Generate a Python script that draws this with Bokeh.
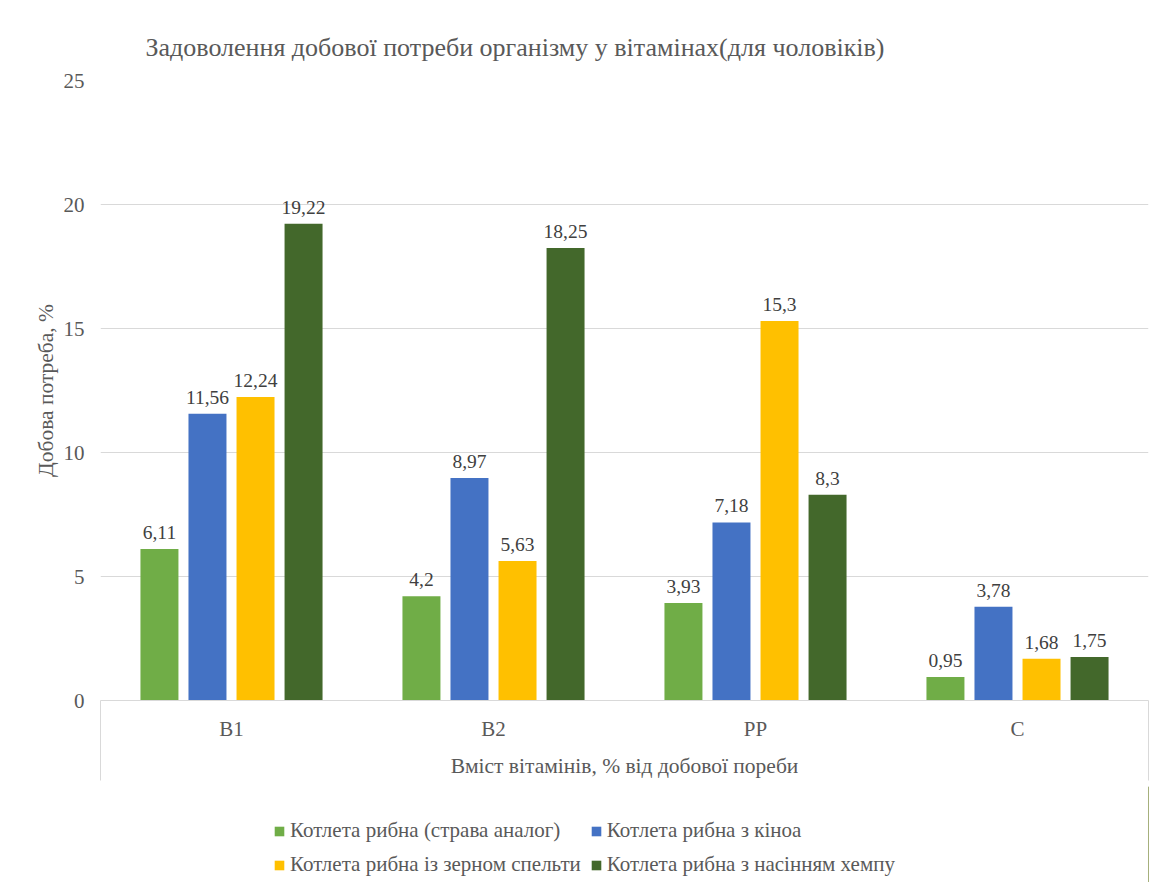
from bokeh.plotting import figure
from bokeh.layouts import column
from bokeh.models import (Range1d, FixedTicker, LinearAxis, Legend,
                          LegendItem, ColumnDataSource)
from bokeh.transform import dodge
from bokeh.core.properties import value
from bokeh.embed import file_html
from bokeh.resources import INLINE

# ---------------- data ----------------
categories = ["B1", "B2", "PP", "C"]
series_names = [
    "Котлета рибна (страва аналог)",
    "Котлета рибна з кіноа",
    "Котлета рибна із зерном спельти",
    "Котлета рибна з насінням хемпу",
]
analog = [6.11, 4.2, 3.93, 0.95]
quinoa = [11.56, 8.97, 7.18, 3.78]
spelt = [12.24, 5.63, 15.3, 1.68]
hemp = [19.22, 18.25, 8.3, 1.75]
y_ticks = [0, 5, 10, 15, 20, 25]

title_text = "Задоволення добової потреби організму у вітамінах(для чоловіків)"
x_title = "Вміст вітамінів, % від добової пореби"
y_title = "Добова потреба, %"

# ---------------- style ----------------
colors = ["#70AD47", "#4472C4", "#FFC000", "#43682B"]
FONT = "Liberation Serif"
GRID = "#d9d9d9"
TXT = "#595959"
offsets = [-0.275, -0.0917, 0.0917, 0.275]
bar_w = 0.145

idx = list(range(len(categories)))
x_lo, x_hi = -0.5, len(categories) - 0.5

W, H1, H2 = 1156, 786, 96
p = figure(width=W, height=H1,
           x_range=Range1d(x_lo, x_hi), y_range=Range1d(0, 25),
           output_backend="svg", toolbar_location=None,
           min_border_left=100, min_border_right=8,
           min_border_top=80, min_border_bottom=86)
p.outline_line_color = None
p.background_fill_color = "white"
p.border_fill_color = "white"

series = [analog, quinoa, spelt, hemp]
for name, vals, col, off in zip(series_names, series, colors, offsets):
    src = ColumnDataSource(dict(idx=idx, val=vals,
                                lab=[str(v).replace(".", ",") for v in vals]))
    p.vbar(x=dodge("idx", off), top="val", width=bar_w,
           source=src, fill_color=col, line_color=None)
    p.text(x=dodge("idx", off), y="val", text="lab", source=src,
           text_align="center", text_baseline="bottom", y_offset=-10,
           text_font=value(FONT), text_font_size="19.5px", text_color="#404040")

# y axis
p.yaxis.ticker = FixedTicker(ticks=y_ticks)
p.yaxis.axis_line_color = None
p.yaxis.major_tick_line_color = None
p.yaxis.minor_tick_line_color = None
p.yaxis.major_tick_out = 0
p.yaxis.major_tick_in = 0
p.yaxis.major_label_standoff = 16
p.yaxis.major_label_text_font = FONT
p.yaxis.major_label_text_font_size = "21px"
p.yaxis.major_label_text_color = TXT
p.yaxis.axis_label = y_title
p.yaxis.axis_label_text_font = FONT
p.yaxis.axis_label_text_font_size = "21.5px"
p.yaxis.axis_label_text_font_style = "normal"
p.yaxis.axis_label_text_color = TXT
p.yaxis.axis_label_standoff = 3

p.ygrid.ticker = FixedTicker(ticks=y_ticks)
p.ygrid.grid_line_color = GRID
p.xgrid.grid_line_color = None

# x axis (categories)
p.xaxis.ticker = FixedTicker(ticks=idx)
p.xaxis.major_label_overrides = {i: c for i, c in zip(idx, categories)}
p.xaxis.axis_line_color = GRID
p.xaxis.major_tick_line_color = None
p.xaxis.minor_tick_line_color = None
p.xaxis.major_tick_out = 0
p.xaxis.major_tick_in = 0
p.xaxis.major_label_standoff = 16
p.xaxis.major_label_text_font = FONT
p.xaxis.major_label_text_font_size = "21px"
p.xaxis.major_label_text_color = TXT
p.xaxis.axis_label = x_title
p.xaxis.axis_label_text_font = FONT
p.xaxis.axis_label_text_font_size = "21.5px"
p.xaxis.axis_label_text_font_style = "normal"
p.xaxis.axis_label_text_color = TXT
p.xaxis.axis_label_standoff = 10

# box lines framing the category axis area (ticks only, no labels)
box_axis = LinearAxis(ticker=FixedTicker(ticks=[x_lo, x_hi]),
                      major_tick_in=80, major_tick_out=0,
                      major_tick_line_color=GRID, axis_line_color=None,
                      minor_tick_line_color=None,
                      major_label_overrides={x_lo: " ", x_hi: " "},
                      major_label_text_font_size="2px", major_label_standoff=0)
p.add_layout(box_axis, "below")

# title
p.title.text = title_text
p.title.align = "left"
p.title.offset = 45
p.title.text_font = FONT
p.title.text_font_size = "26px"
p.title.text_font_style = "normal"
p.title.text_color = TXT
p.title.standoff = 38

# legend strip below the chart (its own plot area so nothing is clipped)
p2 = figure(width=W, height=H2, x_range=Range1d(0, 1), y_range=Range1d(0, 1),
            output_backend="svg", toolbar_location=None, min_border=0,
            x_axis_type=None, y_axis_type=None)
p2.outline_line_color = None
p2.background_fill_color = "white"
p2.border_fill_color = "white"
p2.grid.grid_line_color = None
leg_renderers = []
for col in colors:
    # one proxy bar outside the visible range: only its swatch is shown
    leg_renderers.append(p2.vbar(x=[5], top=[1], width=0.1,
                                 fill_color=col, line_color=None))
legend = Legend(items=[LegendItem(label=n, renderers=[r])
                       for n, r in zip(series_names, leg_renderers)],
                location=(173, 5), orientation="horizontal", ncols=2,
                label_text_font=FONT, label_text_font_size="21px",
                label_text_color=TXT, glyph_width=12, glyph_height=12,
                label_standoff=5, spacing=9, padding=0, margin=0,
                label_height=24,
                border_line_color=None, background_fill_alpha=0)
p2.add_layout(legend, "center")

layout = column(p, p2, spacing=0)
open("out.html", "w").write(file_html(layout, INLINE))
